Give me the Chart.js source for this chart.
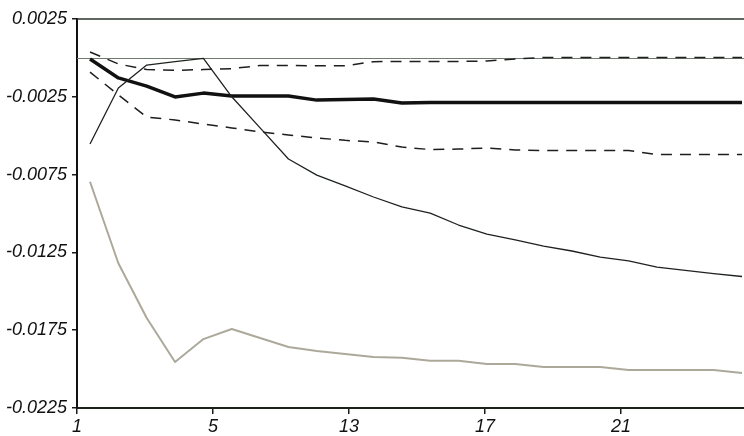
<!DOCTYPE html>
<html>
<head>
<meta charset="utf-8">
<script src="https://cdn.jsdelivr.net/npm/chart.js@4/dist/chart.umd.min.js"></script>
<style>
  html, body { margin: 0; padding: 0; background: #ffffff; }
  #wrap { width: 744px; height: 436px; }
</style>
</head>
<body>
<div id="wrap"><canvas id="chart" width="744" height="436"></canvas></div>
<script>
// Horizon (periods after the shock)
const periods = [1, 2, 3, 4, 5, 6, 7, 8, 9, 10, 11, 12, 13, 14, 15, 16, 17, 18, 19, 20, 21, 22, 23, 24];

// Point response (heavy line)
const responseMain = [-0.00007, -0.00129, -0.00181, -0.00251, -0.00226, -0.00245, -0.00245, -0.00245,
  -0.00271, -0.00267, -0.00264, -0.00290, -0.00287, -0.00287, -0.00287, -0.00287,
  -0.00287, -0.00287, -0.00287, -0.00287, -0.00287, -0.00287, -0.00287, -0.00287];

// Confidence band around the point response (dashed)
const bandUpper = [0.00038, -0.00039, -0.00075, -0.00080, -0.00075, -0.00069, -0.00049, -0.00049,
  -0.00051, -0.00051, -0.00024, -0.00023, -0.00023, -0.00023, -0.00020, -0.00007,
  0.00003, 0.00003, 0.00003, 0.00003, 0.00003, 0.00003, 0.00003, 0.00003];
const bandLower = [-0.00091, -0.00238, -0.00380, -0.00399, -0.00425, -0.00450, -0.00476, -0.00495,
  -0.00514, -0.00530, -0.00540, -0.00573, -0.00589, -0.00586, -0.00579, -0.00592,
  -0.00595, -0.00595, -0.00595, -0.00595, -0.00621, -0.00621, -0.00621, -0.00621];

// Second response (thin solid line)
const responseB = [-0.00553, -0.00193, -0.00046, -0.00024, -0.00003, -0.00250, -0.00450, -0.00650,
  -0.00753, -0.00823, -0.00894, -0.00958, -0.00997, -0.01074, -0.01132, -0.01170,
  -0.01209, -0.01241, -0.01280, -0.01305, -0.01344, -0.01366, -0.01386, -0.01405];

// Third response (grey line)
const responseC = [-0.00796, -0.01320, -0.01672, -0.01954, -0.01807, -0.01742, -0.01800, -0.01858,
  -0.01883, -0.01903, -0.01922, -0.01927, -0.01946, -0.01946, -0.01967, -0.01967,
  -0.01986, -0.01986, -0.01986, -0.02006, -0.02006, -0.02006, -0.02006, -0.02025];

// Axis labels
const xTickLabels = ['1', '5', '13', '17', '21'];
const yTickValues = [-0.0225, -0.0175, -0.0125, -0.0075, -0.0025, 0.0025];

const toPoints = arr => arr.map((v, i) => ({ x: periods[i], y: v }));

// x-axis range and tick spacing (in period units)
const X_MIN = 0.541, X_MAX = 24.07, X_STEP = 4.797;

const tickFont = { family: "'Liberation Sans', Arial, sans-serif", size: 18, style: 'italic' };

// Top frame line and the zero reference line
const frameLines = {
  id: 'frameLines',
  beforeDatasetsDraw(chart) {
    const { ctx, chartArea, scales } = chart;
    ctx.save();
    const y0 = Math.round(scales.y.getPixelForValue(0)) + 0.5;
    ctx.strokeStyle = '#6f7a6f';
    ctx.lineWidth = 1;
    ctx.beginPath();
    ctx.moveTo(chartArea.left, y0);
    ctx.lineTo(chartArea.right, y0);
    ctx.stroke();
    const yt = scales.y.getPixelForValue(0.0025);
    ctx.strokeStyle = '#2a332a';
    ctx.lineWidth = 1.5;
    ctx.beginPath();
    ctx.moveTo(chartArea.left, yt);
    ctx.lineTo(chartArea.right, yt);
    ctx.stroke();
    ctx.restore();
  }
};

const lineBase = { fill: false, pointRadius: 0, tension: 0, borderJoinStyle: 'round' };

new Chart(document.getElementById('chart'), {
  type: 'line',
  data: {
    datasets: [
      Object.assign({}, lineBase, { label: 'C', data: toPoints(responseC), borderColor: '#aca99b', borderWidth: 2 }),
      Object.assign({}, lineBase, { label: 'B', data: toPoints(responseB), borderColor: '#1e221e', borderWidth: 1.3 }),
      Object.assign({}, lineBase, { label: 'Upper', data: toPoints(bandUpper), borderColor: '#1e1e1e', borderWidth: 1.5, borderDash: [11, 8] }),
      Object.assign({}, lineBase, { label: 'Lower', data: toPoints(bandLower), borderColor: '#1e1e1e', borderWidth: 1.5, borderDash: [11, 8] }),
      Object.assign({}, lineBase, { label: 'Main', data: toPoints(responseMain), borderColor: '#111111', borderWidth: 3.4 })
    ]
  },
  options: {
    responsive: false,
    animation: false,
    layout: { padding: { top: 19, right: 0, left: 0, bottom: 0 } },
    plugins: { legend: { display: false }, tooltip: { enabled: false } },
    scales: {
      x: {
        type: 'linear',
        min: X_MIN,
        max: X_MAX,
        afterBuildTicks(scale) {
          const ticks = [];
          for (let i = 0; i < xTickLabels.length; i++) ticks.push({ value: X_MIN + i * X_STEP });
          scale.ticks = ticks;
        },
        afterFit(scale) { scale.height = 28; },
        ticks: {
          autoSkip: false,
          maxRotation: 0,
          padding: 2,
          color: '#111',
          font: tickFont,
          callback: (v, i) => xTickLabels[i]
        },
        grid: { drawOnChartArea: false, drawTicks: true, tickLength: 6, color: '#1a1a1a', lineWidth: 1.5 },
        border: { display: true, color: '#1a221a', width: 2 }
      },
      y: {
        min: -0.0225,
        max: 0.0025,
        afterBuildTicks(scale) { scale.ticks = yTickValues.map(v => ({ value: v })); },
        afterFit(scale) { scale.width = 77; },
        ticks: {
          padding: 5,
          color: '#111',
          font: tickFont,
          callback: v => v.toFixed(4)
        },
        grid: { drawOnChartArea: false, drawTicks: true, tickLength: 5, color: '#1a1a1a', lineWidth: 1.5 },
        border: { display: true, color: '#111', width: 2 }
      }
    }
  },
  plugins: [frameLines]
});
</script>
</body>
</html>
